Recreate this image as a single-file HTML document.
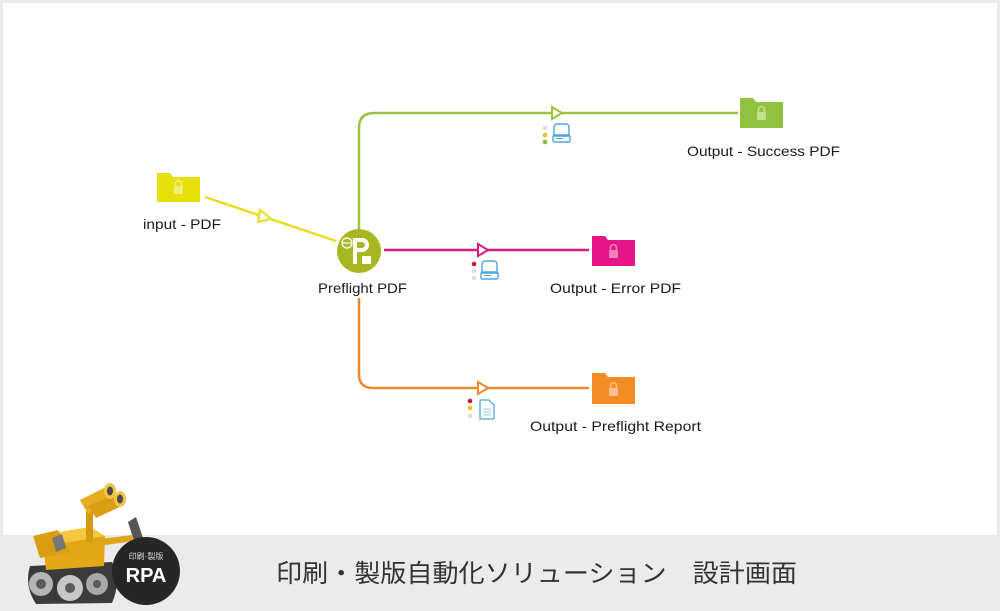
<!DOCTYPE html>
<html><head><meta charset="utf-8">
<style>
html,body{margin:0;padding:0;background:#ebebeb;}
body{width:1000px;height:611px;overflow:hidden;position:relative;}
svg{position:absolute;left:0;top:0;}
</style></head>
<body>
<svg width="1000" height="611" viewBox="0 0 1000 611" xmlns="http://www.w3.org/2000/svg">
  <rect x="0" y="0" width="1000" height="611" fill="#ebebeb"/>
  <rect x="3" y="3" width="994" height="532" fill="#ffffff"/>

  <!-- connectors -->
  <line x1="205" y1="197" x2="336" y2="241" stroke="#e8dc1e" stroke-width="2.5"/>
  <path d="M260 210 L271 219 L258 222 Z" fill="#fff" stroke="#e8dc1e" stroke-width="2"/>
  <path d="M359 229 L359 128 Q359 113 374 113 L738 113" fill="none" stroke="#9cc23a" stroke-width="2.5"/>
  <path d="M552 107 L562 113 L552 119 Z" fill="#fff" stroke="#9cc23a" stroke-width="2"/>
  <line x1="384" y1="250" x2="589" y2="250" stroke="#d81b7f" stroke-width="2.5"/>
  <path d="M478 244 L488 250 L478 256 Z" fill="#fff" stroke="#d81b7f" stroke-width="2"/>
  <path d="M359 298 L359 374 Q359 388 373 388 L589 388" fill="none" stroke="#ea8a2a" stroke-width="2.5"/>
  <path d="M478 382 L488 388 L478 394 Z" fill="#fff" stroke="#ea8a2a" stroke-width="2"/>

  <!-- folders -->
  <g>
    <path d="M157 173 h13 l3 4 h27 v25 h-43 Z" fill="#e6df0a"/>
    <rect x="174" y="186" width="9" height="8" rx="1" fill="#f3ee7a"/>
    <path d="M175.5 186 v-2.5 a3 3 0 0 1 6 0 v2.5" fill="none" stroke="#f3ee7a" stroke-width="1.6"/>
  </g>
  <g>
    <path d="M740 98 h13 l3 4 h27 v26 h-43 Z" fill="#8fc240"/>
    <rect x="757" y="112" width="9" height="8" rx="1" fill="#c3e08e"/>
    <path d="M758.5 112 v-2.5 a3 3 0 0 1 6 0 v2.5" fill="none" stroke="#c3e08e" stroke-width="1.6"/>
  </g>
  <g>
    <path d="M592 236 h13 l3 4 h27 v26 h-43 Z" fill="#e5168a"/>
    <rect x="609" y="250" width="9" height="8" rx="1" fill="#f27fbd"/>
    <path d="M610.5 250 v-2.5 a3 3 0 0 1 6 0 v2.5" fill="none" stroke="#f27fbd" stroke-width="1.6"/>
  </g>
  <g>
    <path d="M592 373 h13 l3 4 h27 v27 h-43 Z" fill="#f28c23"/>
    <rect x="609" y="388" width="9" height="8" rx="1" fill="#f8c08a"/>
    <path d="M610.5 388 v-2.5 a3 3 0 0 1 6 0 v2.5" fill="none" stroke="#f8c08a" stroke-width="1.6"/>
  </g>

  <!-- preflight node -->
  <circle cx="359" cy="251" r="22" fill="#a7b722"/>
  <circle cx="347" cy="243" r="5" fill="none" stroke="#fff" stroke-width="1.3"/>
  <line x1="343" y1="243" x2="351" y2="243" stroke="#fff" stroke-width="1.2"/>
  <path d="M353 238 h9 a7 7 0 0 1 0 14 h-5 v12 h-4 Z M357 242 v6 h5 a3 3 0 0 0 0 -6 Z" fill="#fff" fill-rule="evenodd"/>
  <rect x="362" y="256" width="9" height="8" fill="#fff"/>

  <!-- status icons: success -->
  <circle cx="545" cy="128" r="2.3" fill="#dcdcdc"/>
  <circle cx="545" cy="135" r="2.3" fill="#e9c220"/>
  <circle cx="545" cy="142" r="2.3" fill="#8bb83a"/>
  <path d="M554 136 v-9 a3 3 0 0 1 3 -3 h9 a3 3 0 0 1 3 3 v9 Z" fill="none" stroke="#4ea6da" stroke-width="1.4"/>
  <rect x="553" y="135" width="17" height="7" rx="1.5" fill="none" stroke="#4ea6da" stroke-width="1.4"/>
  <line x1="556" y1="138.5" x2="563" y2="138.5" stroke="#4ea6da" stroke-width="1"/>
  <!-- error -->
  <circle cx="474" cy="264" r="2.3" fill="#c41a2e"/>
  <circle cx="474" cy="271" r="2.3" fill="#dcdcdc"/>
  <circle cx="474" cy="278" r="2.3" fill="#dcdcdc"/>
  <path d="M482 273 v-9 a3 3 0 0 1 3 -3 h9 a3 3 0 0 1 3 3 v9 Z" fill="none" stroke="#4ea6da" stroke-width="1.4"/>
  <rect x="481" y="272" width="17" height="7" rx="1.5" fill="none" stroke="#4ea6da" stroke-width="1.4"/>
  <line x1="484" y1="275.5" x2="491" y2="275.5" stroke="#4ea6da" stroke-width="1"/>
  <!-- report -->
  <circle cx="470" cy="401" r="2.3" fill="#c41a2e"/>
  <circle cx="470" cy="408" r="2.3" fill="#e9c220"/>
  <circle cx="470" cy="416" r="2.3" fill="#dcdcdc"/>
  <path d="M480 400 h9 l5 5 v14 h-14 Z" fill="none" stroke="#4ea6da" stroke-width="1.3"/>
  <line x1="483" y1="409" x2="491" y2="409" stroke="#9bcbe8" stroke-width="1"/>
  <line x1="483" y1="412" x2="491" y2="412" stroke="#9bcbe8" stroke-width="1"/>
  <line x1="483" y1="415" x2="491" y2="415" stroke="#9bcbe8" stroke-width="1"/>

  <!-- labels -->
  <g font-family="Liberation Sans, sans-serif" font-size="14" fill="#1a1a1a">
    <text x="143" y="229" textLength="78" lengthAdjust="spacingAndGlyphs">input - PDF</text>
    <text x="318" y="293" textLength="89" lengthAdjust="spacingAndGlyphs">Preflight PDF</text>
    <text x="687" y="156" textLength="153" lengthAdjust="spacingAndGlyphs">Output - Success PDF</text>
    <text x="550" y="293" textLength="131" lengthAdjust="spacingAndGlyphs">Output - Error PDF</text>
    <text x="530" y="431" textLength="171" lengthAdjust="spacingAndGlyphs">Output - Preflight Report</text>
  </g>

  <!-- bottom title -->
  <text x="276" y="582" font-family="Liberation Sans, 'Noto Sans CJK JP', sans-serif" font-size="25" fill="#333" textLength="521" lengthAdjust="spacingAndGlyphs">印刷・製版自動化ソリューション　設計画面</text>

  <!-- robot -->
  <g>
    <!-- tracks -->
    <path d="M30 566 L112 562 Q122 580 112 603 L36 604 Q24 586 30 566 Z" fill="#3b3b3b"/>
    <circle cx="41" cy="584" r="12" fill="#b5b5b5"/>
    <circle cx="41" cy="584" r="5" fill="#5a5a5a"/>
    <circle cx="70" cy="588" r="13" fill="#c6c6c6"/>
    <circle cx="70" cy="588" r="5" fill="#5a5a5a"/>
    <circle cx="97" cy="584" r="11" fill="#a8a8a8"/>
    <circle cx="97" cy="584" r="4" fill="#5a5a5a"/>
    <!-- body -->
    <path d="M42 535 L90 527 L105 536 L104 566 L46 570 Z" fill="#e3a616"/>
    <path d="M42 535 L90 527 L105 536 L58 544 Z" fill="#f6c840"/>
    <!-- left arm tool -->
    <path d="M33 536 L58 530 L70 552 L40 558 Z" fill="#d99c12"/>
    <path d="M52 538 L62 534 L66 548 L56 552 Z" fill="#777"/>
    <!-- neck -->
    <rect x="86" y="508" width="7" height="34" fill="#d39a12"/>
    <!-- right arm -->
    <path d="M92 540 L132 535 L133 541 L93 547 Z" fill="#e0a418"/>
    <path d="M128 522 L136 517 L143 538 L134 541 Z" fill="#555"/>
    <!-- head binoculars -->
    <path d="M80 500 L108 486 L116 498 L88 514 Z" fill="#e8ad1e"/>
    <path d="M88 506 L116 494 L124 505 L96 518 Z" fill="#d99c14"/>
    <ellipse cx="110" cy="491" rx="6" ry="8" fill="#f2c444"/>
    <ellipse cx="110" cy="491" rx="3" ry="4.5" fill="#4a4a4a"/>
    <ellipse cx="120" cy="499" rx="6" ry="8" fill="#f2c444"/>
    <ellipse cx="120" cy="499" rx="3" ry="4.5" fill="#4a4a4a"/>
  </g>
  <!-- RPA badge -->
  <circle cx="146" cy="571" r="34" fill="#262626"/>
  <text x="146" y="559" text-anchor="middle" font-family="Liberation Sans, 'Noto Sans CJK JP', sans-serif" font-size="8" fill="#ddd">印刷·製版</text>
  <text x="146" y="582" text-anchor="middle" font-family="Liberation Sans, sans-serif" font-weight="bold" font-size="20" fill="#fff">RPA</text>
</svg>
</body></html>
